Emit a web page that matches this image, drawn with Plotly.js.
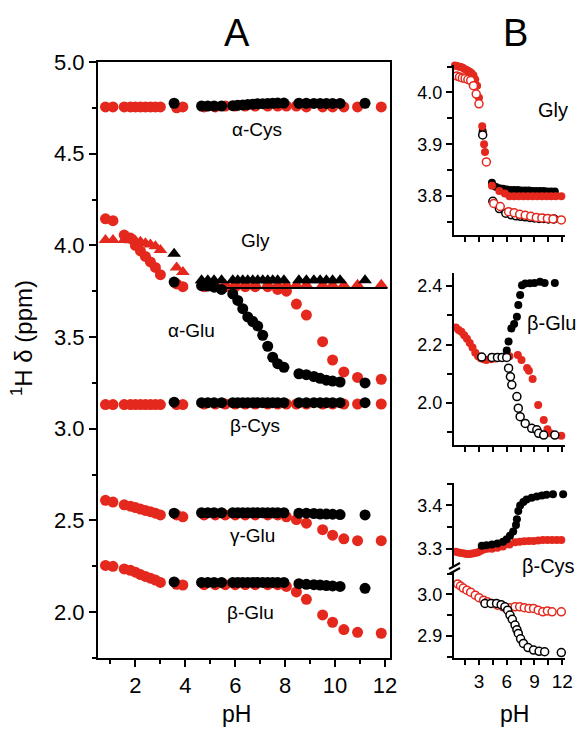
<!DOCTYPE html>
<html><head><meta charset="utf-8">
<script src="https://cdn.plot.ly/plotly-3.0.1.min.js"></script>
<style>html,body{margin:0;padding:0;background:#fff}#plot{width:579px;height:730px}</style>
</head><body><div id="plot"></div>
<script>
// ---------- Panel A data ----------
const rpH = [0.8,1.1,1.55,1.8,2.0,2.2,2.4,2.6,2.8,3.0,3.65,3.9,4.75,5.2,5.6,6.0,6.4,6.8,7.3,7.7,8.05,8.45,8.85,9.5,9.9,10.35,10.9,11.85];
const aCysRed = [4.755,4.755,4.755,4.755,4.755,4.755,4.755,4.755,4.755,4.755,4.75,4.755,4.755,4.755,4.76,4.76,4.76,4.76,4.76,4.76,4.76,4.76,4.755,4.755,4.755,4.755,4.755,4.755];
const glyRed = [4.03,4.03,4.03,4.028,4.025,4.02,4.012,4.005,3.995,3.975,3.88,3.855,3.785,3.785,3.785,3.785,3.785,3.785,3.785,3.785,3.785,3.785,3.785,3.785,3.785,3.785,3.785,3.785];
const aGluRed = [4.145,4.135,4.056,4.04,4.0,3.97,3.94,3.91,3.88,3.84,3.79,3.775,3.775,3.775,3.775,3.775,3.775,3.775,3.775,3.76,3.75,3.68,3.62,3.475,3.375,3.31,3.28,3.27];
const bCysRed = [3.132,3.132,3.132,3.132,3.132,3.132,3.132,3.132,3.132,3.132,3.132,3.132,3.135,3.135,3.135,3.135,3.135,3.135,3.135,3.135,3.135,3.135,3.135,3.135,3.135,3.135,3.135,3.135];
const gGluRed = [2.61,2.60,2.585,2.578,2.57,2.562,2.555,2.548,2.54,2.53,2.53,2.52,2.53,2.53,2.53,2.53,2.53,2.53,2.53,2.53,2.52,2.505,2.485,2.45,2.42,2.40,2.39,2.39];
const bGluRed = [2.255,2.25,2.236,2.228,2.218,2.205,2.195,2.185,2.175,2.162,2.152,2.148,2.15,2.15,2.15,2.15,2.15,2.15,2.15,2.15,2.14,2.11,2.07,1.985,1.945,1.905,1.89,1.885];

const bpH = [3.55,4.65,4.9,5.15,5.45,5.9,6.1,6.3,6.5,6.7,6.9,7.1,7.3,7.5,7.7,7.95,8.55,8.85,9.15,9.4,9.65,9.9,10.2,11.2];
const aCysBlk = [4.775,4.76,4.76,4.76,4.76,4.762,4.764,4.766,4.768,4.77,4.772,4.773,4.774,4.775,4.776,4.776,4.775,4.775,4.774,4.774,4.774,4.774,4.774,4.775];
const glyBlk = [3.955,3.81,3.81,3.81,3.81,3.81,3.81,3.81,3.81,3.81,3.81,3.81,3.81,3.81,3.81,3.81,3.81,3.81,3.81,3.81,3.81,3.81,3.81,3.81];
const aGluBlk = [3.80,3.78,3.778,3.772,3.76,3.735,3.70,3.655,3.61,3.585,3.56,3.51,3.45,3.39,3.355,3.335,3.30,3.295,3.285,3.275,3.265,3.26,3.255,3.25];
const bCysBlk = [3.145,3.142,3.142,3.142,3.142,3.142,3.142,3.142,3.142,3.142,3.142,3.142,3.142,3.142,3.142,3.142,3.142,3.142,3.142,3.142,3.142,3.142,3.142,3.142];
const gGluBlk = [2.54,2.542,2.542,2.542,2.542,2.542,2.542,2.542,2.542,2.542,2.542,2.542,2.542,2.542,2.542,2.542,2.54,2.54,2.538,2.535,2.535,2.534,2.532,2.53];
const bGluBlk = [2.165,2.162,2.162,2.162,2.162,2.162,2.162,2.162,2.162,2.162,2.162,2.162,2.162,2.162,2.162,2.162,2.155,2.152,2.15,2.148,2.145,2.143,2.14,2.13];
const glyRefPH = [4.5,12.1];
const glyRefVal = [3.767,3.767];

// ---------- Panel B data ----------
// Gly
const gBRedPH = [0.4,0.6,0.8,1.0,1.2,1.4,1.6,1.8,2.0,2.2,2.4,2.6,2.8,3.0,3.35,3.45,3.55,3.65,4.4,5.2,5.8,6.3,6.8,7.3,7.8,8.3,8.8,9.3,9.8,10.3,10.8,11.3,11.9];
const gBRed = [4.052,4.051,4.05,4.049,4.048,4.046,4.044,4.042,4.04,4.037,4.033,4.025,4.013,3.99,3.935,3.92,3.90,3.885,3.82,3.81,3.805,3.80,3.80,3.80,3.80,3.80,3.80,3.80,3.80,3.80,3.80,3.80,3.80];
const gBBlkPH = [3.4,4.4,4.8,5.2,5.6,6.0,6.4,6.8,7.2,7.6,8.0,8.4,8.8,9.2,9.6,10.0,10.4,10.8,11.2];
const gBBlk = [3.925,3.826,3.818,3.815,3.814,3.813,3.812,3.812,3.812,3.811,3.811,3.811,3.81,3.81,3.81,3.81,3.809,3.809,3.809];
const gBBlkOpenPH = [3.4,4.5,5.2,5.9,6.5,7.0,7.5,8.0,8.5,9.0,9.5,10.0,10.5,11.1];
const gBBlkOpen = [3.918,3.79,3.776,3.767,3.764,3.762,3.761,3.76,3.759,3.758,3.757,3.757,3.756,3.756];
const gBRedOpenPH = [0.6,0.9,1.2,1.5,1.8,2.1,2.4,2.7,3.0,3.8,4.6,5.3,6.2,6.8,7.4,8.0,8.6,9.2,9.8,10.4,11.0,11.9];
const gBRedOpen = [4.032,4.03,4.028,4.027,4.025,4.023,4.013,3.997,3.978,3.866,3.786,3.78,3.77,3.768,3.765,3.763,3.761,3.759,3.758,3.757,3.756,3.754];
// beta-Glu
const eBRedPH = [0.5,0.8,1.1,1.4,1.7,2.0,2.3,2.6,2.9,3.2,3.5,3.8,4.3,4.8,5.3,5.8,6.3,7.2,7.6,8.2,8.4,8.8,9.4,10.0,10.4,10.7,11.9];
const eBRed = [2.258,2.25,2.244,2.232,2.22,2.205,2.19,2.172,2.16,2.153,2.15,2.147,2.15,2.152,2.155,2.158,2.16,2.164,2.147,2.12,2.11,2.082,1.993,1.942,1.91,1.896,1.888];
const eBBlkPH = [3.3,4.4,5.0,5.5,6.0,6.2,6.5,6.8,7.1,7.25,7.45,7.65,8.0,8.5,9.0,9.6,10.1,11.2];
const eBBlk = [2.157,2.157,2.157,2.157,2.18,2.21,2.255,2.27,2.295,2.335,2.37,2.403,2.409,2.41,2.411,2.415,2.411,2.411];
const eBBlkOpenPH = [3.3,4.4,5.0,5.5,6.0,6.2,6.4,6.55,7.1,7.25,7.45,8.0,8.7,9.25,9.45,10.0,11.2];
const eBBlkOpen = [2.157,2.156,2.156,2.156,2.156,2.119,2.09,2.062,2.022,1.982,1.953,1.93,1.913,1.908,1.896,1.89,1.89];
// beta-Cys
const cBRedPH = [0.5,0.8,1.1,1.4,1.7,2.0,2.3,2.6,2.9,3.2,3.5,3.9,4.4,5.0,5.6,6.3,6.9,7.4,7.9,8.4,8.9,9.4,9.9,10.4,10.9,11.4,11.9];
const cBRed = [3.293,3.291,3.29,3.289,3.288,3.288,3.289,3.29,3.292,3.295,3.298,3.30,3.30,3.302,3.305,3.31,3.315,3.316,3.317,3.318,3.318,3.319,3.32,3.32,3.32,3.32,3.32];
const cBBlkPH = [3.3,3.8,4.4,5.0,5.6,6.0,6.35,6.7,7.0,7.1,7.25,7.45,7.8,8.15,8.7,9.25,9.8,10.3,11.0,12.1];
const cBBlk = [3.307,3.308,3.31,3.312,3.316,3.322,3.33,3.34,3.355,3.368,3.387,3.40,3.408,3.414,3.418,3.421,3.423,3.425,3.426,3.426];
const cBRedOpenPH = [0.7,1.0,1.3,1.7,2.1,2.6,3.0,3.5,3.9,4.4,5.0,5.6,6.3,6.9,7.4,7.9,8.4,8.9,9.4,9.9,10.4,10.9,11.9];
const cBRedOpen = [3.025,3.02,3.015,3.01,3.005,2.998,2.992,2.986,2.982,2.978,2.974,2.97,2.968,2.97,2.97,2.968,2.966,2.966,2.962,2.958,2.96,2.958,2.958];
const cBBlkOpenPH = [3.65,4.3,4.9,5.4,5.8,6.1,6.35,6.6,6.9,7.1,7.25,7.5,7.8,8.3,8.9,9.5,10.1,11.9];
const cBBlkOpen = [2.978,2.978,2.978,2.975,2.97,2.962,2.95,2.94,2.926,2.915,2.906,2.893,2.882,2.872,2.866,2.863,2.862,2.86];

// ---------- styling / layout ----------
const RED = '#e4281d', BLK = '#000000';
const FONT = 'Liberation Sans, Arial, Helvetica, sans-serif';
const W = 579, H = 730;
const fx = px => px / W, fy = py => 1 - py / H;

function pts(x, y, xa, ya, color, symbol, size, open) {
  const m = {color: open ? '#ffffff' : color, size: size, symbol: symbol,
             line: {color: color, width: open ? 1.5 : 0}};
  return {type: 'scatter', mode: 'markers', x: x, y: y, xaxis: xa, yaxis: ya, marker: m,
          hoverinfo: 'skip', showlegend: false, cliponaxis: false};
}

const SA = 11, SB = 8;
const traces = [
  pts(rpH, aCysRed, 'x', 'y', RED, 'circle', SA),
  pts(rpH, glyRed, 'x', 'y', RED, 'triangle-up', 12),
  pts(rpH, aGluRed, 'x', 'y', RED, 'circle', SA),
  pts(rpH, bCysRed, 'x', 'y', RED, 'circle', SA),
  pts(rpH, gGluRed, 'x', 'y', RED, 'circle', SA),
  pts(rpH, bGluRed, 'x', 'y', RED, 'circle', SA),
  {type: 'scatter', mode: 'lines', x: glyRefPH, y: glyRefVal, xaxis: 'x', yaxis: 'y',
   line: {color: BLK, width: 2}, hoverinfo: 'skip', showlegend: false},
  pts(bpH, aCysBlk, 'x', 'y', BLK, 'circle', SA),
  pts(bpH, glyBlk, 'x', 'y', BLK, 'triangle-up', 12),
  pts(bpH, aGluBlk, 'x', 'y', BLK, 'circle', SA),
  pts(bpH, bCysBlk, 'x', 'y', BLK, 'circle', SA),
  pts(bpH, gGluBlk, 'x', 'y', BLK, 'circle', SA),
  pts(bpH, bGluBlk, 'x', 'y', BLK, 'circle', SA),
  pts(gBBlkPH, gBBlk, 'x2', 'y2', BLK, 'circle', SB),
  pts(gBRedPH, gBRed, 'x2', 'y2', RED, 'circle', SB),
  pts(gBBlkOpenPH, gBBlkOpen, 'x2', 'y2', BLK, 'circle', SB, true),
  pts(gBRedOpenPH, gBRedOpen, 'x2', 'y2', RED, 'circle', SB, true),
  pts(eBRedPH, eBRed, 'x3', 'y3', RED, 'circle', SB),
  pts(eBBlkPH, eBBlk, 'x3', 'y3', BLK, 'circle', SB),
  pts(eBBlkOpenPH, eBBlkOpen, 'x3', 'y3', BLK, 'circle', SB, true),
  pts(cBRedPH, cBRed, 'x4', 'y4', RED, 'circle', SB),
  pts(cBBlkPH, cBBlk, 'x4', 'y4', BLK, 'circle', SB),
  pts(cBRedOpenPH, cBRedOpen, 'x5', 'y5', RED, 'circle', SB, true),
  pts(cBBlkOpenPH, cBBlkOpen, 'x5', 'y5', BLK, 'circle', SB, true)
];

const baseAx = {showline: true, linecolor: BLK, linewidth: 2, showgrid: false, zeroline: false,
  ticks: 'outside', tickcolor: BLK, tickwidth: 2, fixedrange: true};
const Bx = [fx(454), fx(565)];
const bxAxis = (anchor, labels) => Object.assign({}, baseAx, {
  domain: Bx, anchor: anchor, range: [0.3, 12.3], tickvals: [3, 6, 9, 12], ticktext: ['3', '6', '9', '12'],
  showticklabels: labels, ticklen: 5, tickfont: {family: FONT, size: 19, color: BLK},
  minor: {ticks: 'outside', dtick: 1.5, tick0: 0, ticklen: 5, tickwidth: 2, tickcolor: BLK}});
const byAxis = (anchor, dom, range, vals, minorStep) => Object.assign({}, baseAx, {
  domain: dom, anchor: anchor, range: range, tickvals: vals, ticktext: vals.map(v => v.toFixed(1)),
  ticklen: 6, tickfont: {family: FONT, size: 18, color: BLK},
  minor: {ticks: 'outside', dtick: minorStep, tick0: 0, ticklen: 5, tickwidth: 2, tickcolor: BLK}});

const layout = {
  width: W, height: H, autosize: false, margin: {l: 0, r: 0, t: 0, b: 0},
  paper_bgcolor: '#fff', plot_bgcolor: '#fff', showlegend: false,
  font: {family: FONT, color: BLK},
  xaxis: Object.assign({}, baseAx, {domain: [fx(98), fx(390)], anchor: 'y', range: [0.5, 12.2], mirror: true,
    dtick: 2, tick0: 0, ticklen: 7, tickfont: {family: FONT, size: 22, color: BLK},
    minor: {ticks: 'outside', dtick: 1, tick0: 0, ticklen: 4, tickwidth: 2, tickcolor: BLK}}),
  yaxis: Object.assign({}, baseAx, {domain: [fy(658), fy(62)], anchor: 'x', range: [1.75, 5.0], mirror: true,
    dtick: 0.5, tick0: 0, tickformat: '.1f', ticklen: 7, tickfont: {family: FONT, size: 22, color: BLK},
    minor: {ticks: 'outside', dtick: 0.25, tick0: 0, ticklen: 4, tickwidth: 2, tickcolor: BLK}}),
  xaxis2: bxAxis('y2', false),
  yaxis2: byAxis('x2', [fy(235), fy(65)], [3.725, 4.053], [3.8, 3.9, 4.0], 0.05),
  xaxis3: bxAxis('y3', false),
  yaxis3: byAxis('x3', [fy(445), fy(273)], [1.856, 2.445], [2.0, 2.2, 2.4], 0.1),
  xaxis4: Object.assign(bxAxis('y4', false), {visible: false}),
  yaxis4: byAxis('x4', [fy(566), fy(483)], [3.26, 3.452], [3.3, 3.4], 0.05),
  xaxis5: bxAxis('y5', true),
  yaxis5: byAxis('x5', [fy(658), fy(571)], [2.847, 3.056], [2.9, 3.0], 0.05),
  shapes: [
    {type: 'line', xref: 'paper', yref: 'paper', x0: fx(449), y0: fy(569), x1: fx(460), y1: fy(563), line: {color: BLK, width: 2}},
    {type: 'line', xref: 'paper', yref: 'paper', x0: fx(449), y0: fy(574), x1: fx(460), y1: fy(568), line: {color: BLK, width: 2}}
  ],
  annotations: [
    {text: 'A', x: fx(237), y: fy(33), font: {size: 38}},
    {text: 'B', x: fx(515), y: fy(33), font: {size: 38}},
    {text: '<sup>1</sup>H δ (ppm)', x: fx(22), y: fy(338), textangle: -90, font: {size: 24}},
    {text: 'pH', x: fx(236), y: fy(714), font: {size: 23}},
    {text: 'pH', x: fx(514), y: fy(714), font: {size: 23}},
    {text: 'α-Cys', x: fx(257), y: fy(129), font: {size: 19}},
    {text: 'Gly', x: fx(255), y: fy(240), font: {size: 19}},
    {text: 'α-Glu', x: fx(191), y: fy(330), font: {size: 19}},
    {text: 'β-Cys', x: fx(255), y: fy(425), font: {size: 19}},
    {text: 'γ-Glu', x: fx(252), y: fy(535), font: {size: 19}},
    {text: 'β-Glu', x: fx(250), y: fy(612), font: {size: 19}},
    {text: 'Gly', x: fx(553), y: fy(110), font: {size: 20}},
    {text: 'β-Glu', x: fx(551), y: fy(323), font: {size: 20}},
    {text: 'β-Cys', x: fx(548), y: fy(566), font: {size: 20}}
  ].map(a => Object.assign({xref: 'paper', yref: 'paper', showarrow: false, xanchor: 'center', yanchor: 'middle'}, a,
    {font: Object.assign({family: FONT, color: BLK}, a.font)}))
};

Plotly.newPlot('plot', traces, layout, {staticPlot: true, displayModeBar: false});
</script></body></html>
